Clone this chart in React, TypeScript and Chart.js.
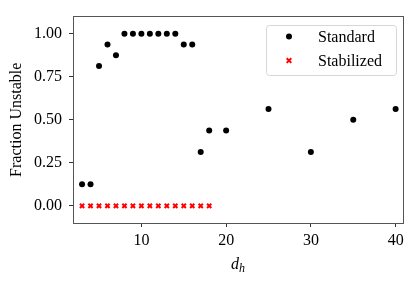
import React, { useEffect, useRef } from "react";
import { Chart, registerables } from "chart.js";

Chart.register(...registerables);

const standardDh = [3, 4, 5, 6, 7, 8, 9, 10, 11, 12, 13, 14, 15, 16, 17, 18, 20, 25, 30, 35, 40];
const standardFrac = [0.125, 0.125, 0.8125, 0.9375, 0.875, 1, 1, 1, 1, 1, 1, 1, 0.9375, 0.9375, 0.3125, 0.4375, 0.4375, 0.5625, 0.3125, 0.5, 0.5625];
const stabilizedDh = [3, 4, 5, 6, 7, 8, 9, 10, 11, 12, 13, 14, 15, 16, 17, 18];
const stabilizedFrac = [0, 0, 0, 0, 0, 0, 0, 0, 0, 0, 0, 0, 0, 0, 0, 0];
const xTickValues = [10, 20, 30, 40];
const yTickValues = [0, 0.25, 0.5, 0.75, 1];
const seriesNames = ["Standard", "Stabilized"];
const yTitle = "Fraction Unstable";

const FONT = '"Liberation Serif", "DejaVu Serif", serif';

const decor = {
  id: "decor",
  afterDraw(chart: any) {
    const { ctx, chartArea: a } = chart;
    ctx.save();
    // frame
    ctx.strokeStyle = "#555";
    ctx.lineWidth = 1;
    const l = Math.floor(a.left) + 0.5;
    const t = Math.floor(a.top) + 0.5;
    const r = Math.floor(a.right) + 0.5;
    const b = Math.floor(a.bottom) + 0.5;
    ctx.strokeRect(l, t, r - l, b - t);

    // legend
    const lx = a.right - 137;
    const ly = a.top + 8;
    const lw = 130;
    const lh = 50;
    ctx.beginPath();
    ctx.roundRect(Math.round(lx) + 0.5, Math.round(ly) + 0.5, lw, lh, 3);
    ctx.fillStyle = "rgba(255,255,255,0.8)";
    ctx.fill();
    ctx.strokeStyle = "#d6d6d6";
    ctx.stroke();
    const mx = lx + 23;
    const row1 = ly + 12;
    const row2 = ly + 36;
    const ds = chart.data.datasets;
    ctx.fillStyle = ds[0].backgroundColor;
    ctx.beginPath();
    ctx.arc(mx, row1, 3, 0, Math.PI * 2);
    ctx.fill();
    ctx.strokeStyle = ds[1].borderColor;
    ctx.lineWidth = 2;
    ctx.beginPath();
    ctx.moveTo(mx - 2.3, row2 - 2.3);
    ctx.lineTo(mx + 2.3, row2 + 2.3);
    ctx.moveTo(mx + 2.3, row2 - 2.3);
    ctx.lineTo(mx - 2.3, row2 + 2.3);
    ctx.stroke();
    ctx.fillStyle = "#000";
    ctx.font = `16px ${FONT}`;
    ctx.textAlign = "left";
    ctx.textBaseline = "middle";
    ctx.fillText(ds[0].label, lx + 52, row1 + 1);
    ctx.fillText(ds[1].label, lx + 52, row2 + 1);

    // y title
    ctx.save();
    ctx.translate(17, (a.top + a.bottom) / 2);
    ctx.rotate(-Math.PI / 2);
    ctx.textAlign = "center";
    ctx.textBaseline = "middle";
    ctx.font = `16px ${FONT}`;
    ctx.fillText(yTitle, 0, 0);
    ctx.restore();

    // x title d_h
    const cx = (a.left + a.right) / 2;
    ctx.font = `italic 16px ${FONT}`;
    const w1 = ctx.measureText("d").width;
    ctx.font = `italic 12px ${FONT}`;
    const w2 = ctx.measureText("h").width;
    const sx = cx - (w1 + w2) / 2;
    ctx.textAlign = "left";
    ctx.textBaseline = "alphabetic";
    ctx.font = `italic 16px ${FONT}`;
    ctx.fillText("d", sx, 269);
    ctx.font = `italic 12px ${FONT}`;
    ctx.fillText("h", sx + w1, 272);
    ctx.restore();
  },
};

export default function App() {
  const ref = useRef<HTMLCanvasElement | null>(null);
  useEffect(() => {
    if (!ref.current) return;
    const chart = new Chart(ref.current, {
      type: "scatter",
      data: {
        datasets: [
          {
            label: seriesNames[0],
            data: standardDh.map((x, i) => ({ x, y: standardFrac[i] })),
            pointStyle: "circle",
            pointRadius: 3,
            backgroundColor: "#000000",
            borderColor: "#000000",
            borderWidth: 0,
          },
          {
            label: seriesNames[1],
            data: stabilizedDh.map((x, i) => ({ x, y: stabilizedFrac[i] })),
            pointStyle: "crossRot",
            pointRadius: 3,
            backgroundColor: "#ff0000",
            borderColor: "#ff0000",
            borderWidth: 2,
          },
        ],
      },
      options: {
        responsive: false,
        animation: false,
        layout: { padding: { left: 0, right: 13, top: 12, bottom: 0 } },
        plugins: { legend: { display: false }, tooltip: { enabled: false } },
        scales: {
          x: {
            type: "linear",
            min: 1.93,
            max: 40.87,
            afterBuildTicks: (s: any) => {
              s.ticks = xTickValues.map((v) => ({ value: v }));
            },
            afterFit: (s: any) => {
              s.height = 59;
            },
            ticks: {
              color: "#000",
              font: { family: FONT, size: 16 },
              padding: 4,
              maxRotation: 0,
              autoSkip: false,
            },
            grid: { display: true, drawOnChartArea: false, drawTicks: true, tickLength: 4, color: "#333" },
            border: { display: false },
          },
          y: {
            type: "linear",
            min: -0.1,
            max: 1.1,
            afterBuildTicks: (s: any) => {
              s.ticks = yTickValues.map((v) => ({ value: v }));
            },
            afterFit: (s: any) => {
              s.width = 73;
            },
            ticks: {
              color: "#000",
              font: { family: FONT, size: 16 },
              padding: 7,
              autoSkip: false,
              callback: (v: any) => Number(v).toFixed(2),
            },
            grid: { display: true, drawOnChartArea: false, drawTicks: true, tickLength: 4, color: "#333" },
            border: { display: false },
          },
        },
      },
      plugins: [decor],
    });
    return () => chart.destroy();
  }, []);
  return (
    <div style={{ position: "fixed", left: 0, top: 0, width: 416, height: 282, background: "#fff" }}>
      <canvas ref={ref} width={416} height={282} />
    </div>
  );
}
